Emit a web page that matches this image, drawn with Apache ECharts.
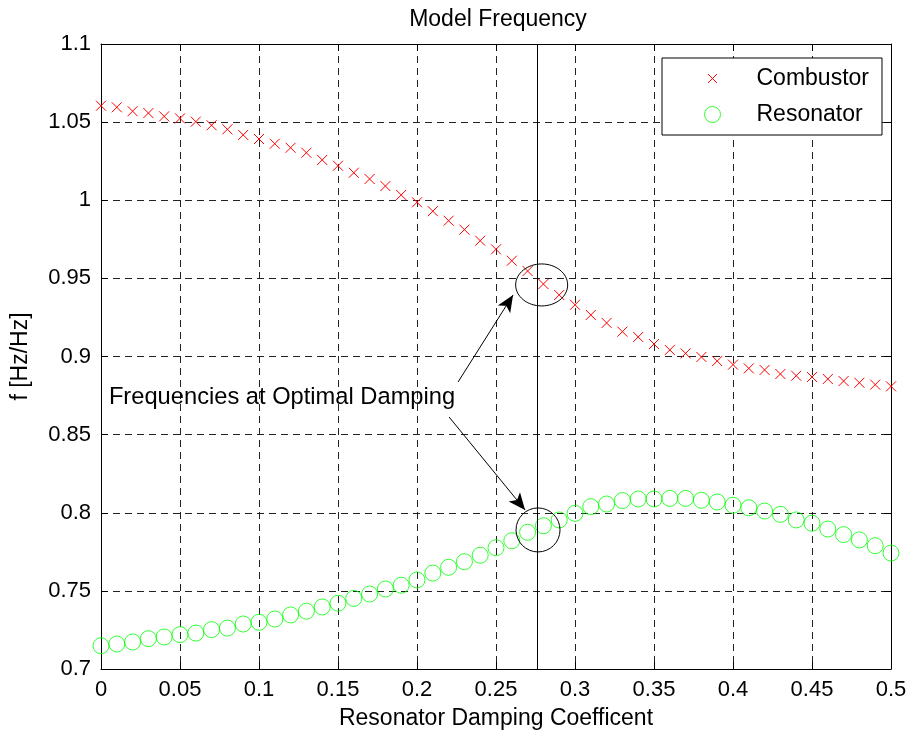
<!DOCTYPE html>
<html>
<head>
<meta charset="utf-8">
<script src="https://cdn.jsdelivr.net/npm/echarts@6/dist/echarts.min.js"></script>
<style>
html,body{margin:0;padding:0;background:#fff;}
#chart{width:912px;height:734px;}
</style>
</head>
<body>
<div id="chart"></div>
<script>
// ---- data ----
const dampingX = [0, 0.01, 0.02, 0.03, 0.04, 0.05, 0.06, 0.07, 0.08, 0.09,
  0.10, 0.11, 0.12, 0.13, 0.14, 0.15, 0.16, 0.17, 0.18, 0.19,
  0.20, 0.21, 0.22, 0.23, 0.24, 0.25, 0.26, 0.27, 0.28, 0.29,
  0.30, 0.31, 0.32, 0.33, 0.34, 0.35, 0.36, 0.37, 0.38, 0.39,
  0.40, 0.41, 0.42, 0.43, 0.44, 0.45, 0.46, 0.47, 0.48, 0.49, 0.50];
const combustor = [1.0605, 1.0595, 1.0570, 1.0558, 1.0537, 1.0524, 1.0503, 1.0480, 1.0454, 1.0418,
  1.0392, 1.0362, 1.0336, 1.0304, 1.0258, 1.0221, 1.0176, 1.0136, 1.0091, 1.0034,
  0.9987, 0.9930, 0.9869, 0.9812, 0.9741, 0.9686, 0.9613, 0.9547, 0.9464, 0.9394,
  0.9331, 0.9266, 0.9215, 0.9159, 0.9125, 0.9080, 0.9042, 0.9020, 0.8997, 0.8971,
  0.8948, 0.8924, 0.8914, 0.8888, 0.8877, 0.8869, 0.8856, 0.8843, 0.8832, 0.8820, 0.8809];
const resonator = [0.7149, 0.7160, 0.7173, 0.7194, 0.7205, 0.7220, 0.7230, 0.7252, 0.7262, 0.7288,
  0.7299, 0.7320, 0.7346, 0.7370, 0.7397, 0.7421, 0.7452, 0.7480, 0.7512, 0.7536,
  0.7570, 0.7614, 0.7651, 0.7687, 0.7728, 0.7776, 0.7821, 0.7875, 0.7917, 0.7954,
  0.7996, 0.8039, 0.8056, 0.8078, 0.8088, 0.8088, 0.8092, 0.8092, 0.8080, 0.8069,
  0.8048, 0.8032, 0.8011, 0.7990, 0.7954, 0.7933, 0.7896, 0.7860, 0.7826, 0.7789, 0.7742];
const seriesNames = ['Combustor', 'Resonator'];
const optimalDamping = 0.276;
const ellipseCenters = [[0.2789, 0.9458], [0.2766, 0.7890]];
const arrowStarts = [[0.2260, 0.8837], [0.2203, 0.8613]];
const arrowEnds = [[0.2608, 0.9394], [0.2684, 0.8018]];
const annotationText = 'Frequencies at Optimal Damping';
const annotationPos = [0.005, 0.8741];
const titleText = 'Model Frequency';
const xName = 'Resonator Damping Coefficent';
const yName = 'f [Hz/Hz]';

// ---- chart ----
const FONT = '"Liberation Sans", Arial, Helvetica, sans-serif';
const chart = echarts.init(document.getElementById('chart'), null, {renderer: 'canvas'});
const crossPath = 'path://M0,0L10,10M10,0L0,10';
const crossLegend = 'path://M-4,-4M0,0L10,10M10,0L0,10M14,14';
const fmt = v => String(+(+v).toFixed(2));
const gridDash = {color: '#222', width: 1, type: [7, 5]};
const RED = '#ff0000', GREEN = '#00ff00';

const option = {
  backgroundColor: '#fff',
  animation: false,
  title: {
    text: titleText, left: 493, top: 3, textAlign: 'center',
    textStyle: {fontFamily: FONT, fontSize: 23, fontWeight: 'normal', color: '#000'}
  },
  grid: {left: 101, top: 44, right: 21, bottom: 65, outerBoundsMode: 'none'},
  legend: {
    orient: 'vertical', left: 662, top: 58,
    padding: [9, 13, 9, 42], itemWidth: 78, itemHeight: 16, itemGap: 13,
    borderColor: '#000', borderWidth: 1, backgroundColor: '#fff',
    textStyle: {fontFamily: FONT, fontSize: 23, color: '#000'},
    data: [
      {name: seriesNames[0], icon: crossLegend, itemStyle: {color: RED, borderColor: RED, borderWidth: 1}},
      {name: seriesNames[1], icon: 'circle', itemStyle: {color: 'rgba(0,0,0,0)', borderColor: GREEN, borderWidth: 1}}
    ]
  },
  xAxis: [{
    type: 'value', min: 0, max: 0.5, interval: 0.05,
    name: xName, nameLocation: 'middle', nameGap: 38,
    nameTextStyle: {fontFamily: FONT, fontSize: 23, color: '#000'},
    axisLine: {show: true, onZero: false, lineStyle: {color: '#000', width: 1}},
    axisTick: {show: true, inside: true, length: 7, lineStyle: {color: '#000'}},
    axisLabel: {fontFamily: FONT, fontSize: 22, color: '#000', margin: 10, formatter: fmt},
    splitLine: {show: true, lineStyle: gridDash}
  }, {
    type: 'value', min: 0, max: 0.5, interval: 0.05, position: 'top',
    axisLine: {show: true, onZero: false, lineStyle: {color: '#000', width: 1}},
    axisTick: {show: true, inside: true, length: 7, lineStyle: {color: '#000'}},
    axisLabel: {show: false}, splitLine: {show: false}
  }],
  yAxis: [{
    type: 'value', min: 0.7, max: 1.1, interval: 0.05,
    name: yName, nameLocation: 'middle', nameGap: 69,
    nameTextStyle: {fontFamily: FONT, fontSize: 23, color: '#000'},
    axisLine: {show: true, onZero: false, lineStyle: {color: '#000', width: 1}},
    axisTick: {show: true, inside: true, length: 7, lineStyle: {color: '#000'}},
    axisLabel: {fontFamily: FONT, fontSize: 22, color: '#000', margin: 10, formatter: fmt},
    splitLine: {show: true, lineStyle: gridDash}
  }, {
    type: 'value', min: 0.7, max: 1.1, interval: 0.05, position: 'right',
    axisLine: {show: true, onZero: false, lineStyle: {color: '#000', width: 1}},
    axisTick: {show: true, inside: true, length: 7, lineStyle: {color: '#000'}},
    axisLabel: {show: false}, splitLine: {show: false}
  }],
  series: [{
    name: seriesNames[0], type: 'scatter', xAxisIndex: 0, yAxisIndex: 0,
    symbol: crossPath, symbolSize: 10,
    itemStyle: {color: RED, borderColor: RED, borderWidth: 1, opacity: 1},
    data: dampingX.map((x, i) => [x, combustor[i]]),
    z: 3,
    markLine: {
      silent: true, symbol: ['none', 'none'], label: {show: false},
      lineStyle: {color: '#000', width: 1, type: 'solid'},
      data: [[{coord: [optimalDamping, 0.7]}, {coord: [optimalDamping, 1.1]}]]
    }
  }, {
    name: seriesNames[1], type: 'scatter', xAxisIndex: 0, yAxisIndex: 0,
    symbol: 'circle', symbolSize: 16,
    itemStyle: {color: 'rgba(0,0,0,0)', borderColor: GREEN, borderWidth: 1},
    data: dampingX.map((x, i) => [x, resonator[i]]),
    z: 3,
    markLine: {
      silent: true, label: {show: false},
      lineStyle: {color: '#000', width: 1, type: 'solid'},
      data: arrowStarts.map((s, i) => [
        {coord: s, symbol: 'none'},
        {coord: arrowEnds[i], symbol: 'arrow', symbolSize: [11, 17]}
      ])
    }
  }]
};
chart.setOption(option);

// annotations positioned through the axes
const px = p => chart.convertToPixel({xAxisIndex: 0, yAxisIndex: 0}, p);
const ellipseR = [[26, 21], [22, 22]];
const graphics = ellipseCenters.map((c, i) => {
  const p = px(c);
  return {
    type: 'ellipse', silent: true, z: 10,
    shape: {cx: p[0], cy: p[1], rx: ellipseR[i][0], ry: ellipseR[i][1]},
    style: {fill: 'none', stroke: '#000', lineWidth: 1}
  };
});
const tp = px(annotationPos);
graphics.push({
  type: 'text', silent: true, z: 10, x: tp[0], y: tp[1],
  style: {text: annotationText, fontFamily: FONT, fontSize: 23.7, fill: '#000',
    align: 'left', verticalAlign: 'middle'}
});
chart.setOption({graphic: graphics});
</script>
</body>
</html>
